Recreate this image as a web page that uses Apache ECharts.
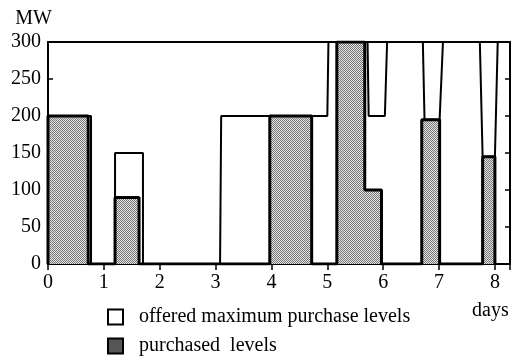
<!DOCTYPE html>
<html>
<head>
<meta charset="utf-8">
<script src="https://cdn.jsdelivr.net/npm/echarts@6/dist/echarts.min.js"></script>
<style>html,body{margin:0;padding:0;background:#fff}#c{width:519px;height:364px}</style>
</head>
<body>
<div id="c"></div>
<script>
// Offered maximum purchase levels (step outline), x in days, y in MW
var offeredX = [0, 0.77, 0.77, 1.2, 1.2, 1.7, 1.7, 3.08, 3.1, 5.0, 5.02, 5.72, 5.74, 6.03, 6.07, 6.71, 6.74, 7.01, 7.07, 7.73, 7.78, 8.0, 8.05, 8.27];
var offeredY = [200, 200, 0, 0, 150, 150, 0, 0, 200, 200, 300, 300, 200, 200, 300, 300, 195, 195, 300, 300, 145, 145, 300, 300];
// Purchased levels (filled blocks)
var purchasedX = [0, 0, 0.72, 0.72, 1.2, 1.2, 1.63, 1.63, 3.97, 3.97, 4.72, 4.72, 5.17, 5.17, 5.67, 5.67, 5.97, 5.97, 6.69, 6.69, 7.01, 7.01, 7.78, 7.78, 8.0, 8.0];
var purchasedY = [0, 200, 200, 0, 0, 90, 90, 0, 0, 200, 200, 0, 0, 300, 300, 100, 100, 0, 0, 195, 195, 0, 0, 145, 145, 0];
var xTicks = [0, 1, 2, 3, 4, 5, 6, 7, 8];
var yTicks = [0, 50, 100, 150, 200, 250, 300];

function zip(xs, ys) { return xs.map(function (x, i) { return [x, ys[i]]; }); }

// stipple pattern
var pc = document.createElement('canvas');
pc.width = 2; pc.height = 2;
var g = pc.getContext('2d');
g.fillStyle = '#e4e4e4'; g.fillRect(0, 0, 2, 2);
g.fillStyle = '#767676'; g.fillRect(0, 0, 1, 1); g.fillRect(1, 1, 1, 1);
var stipple = { image: pc, repeat: 'repeat' };

var serif = 'Liberation Serif';
var chart = echarts.init(document.getElementById('c'));
chart.setOption({
  animation: false,
  backgroundColor: '#fff',
  grid: { left: 48, right: 9, top: 42, bottom: 100, show: false },
  legend: {
    orient: 'vertical', left: 102, top: 302, height: 80, itemWidth: 15, itemHeight: 15, itemGap: 9,
    textStyle: { fontFamily: serif, fontSize: 20, color: '#000', padding: [0, 0, 0, 11] },
    data: [
      { name: 'offered maximum purchase levels', icon: 'rect', itemStyle: { color: '#fff', borderColor: '#000', borderWidth: 2 } },
      { name: 'purchased  levels', icon: 'rect', itemStyle: { color: '#555', borderColor: '#000', borderWidth: 2 } }
    ]
  },
  xAxis: [{
    type: 'value', min: 0, max: 8.27, interval: 1,
    axisLine: { show: true, onZero: false, lineStyle: { color: '#000', width: 2 } },
    axisTick: { show: true, inside: false, length: 6, lineStyle: { color: '#000', width: 1.5 } },
    axisLabel: {
      fontFamily: serif, fontSize: 20, color: '#000', margin: 9,
      formatter: function (v) { return xTicks.indexOf(v) >= 0 ? String(v) : ''; }
    },
    splitLine: { show: false }
  }, {
    type: 'value', position: 'top', min: 0, max: 8.27,
    axisLine: { show: true, onZero: false, lineStyle: { color: '#000', width: 2 } },
    axisTick: { show: false }, axisLabel: { show: false }, splitLine: { show: false }
  }],
  yAxis: [{
    type: 'value', min: 0, max: 300, interval: 50,
    name: 'MW', nameLocation: 'end', nameGap: 13,
    nameTextStyle: { fontFamily: serif, fontSize: 20, color: '#000', align: 'right', padding: [0, -4, 0, 0] },
    axisLine: { show: true, onZero: false, lineStyle: { color: '#000', width: 2 } },
    axisTick: { show: true, inside: true, length: 5, lineStyle: { color: '#000', width: 1.5 } },
    axisLabel: { fontFamily: serif, fontSize: 20, color: '#000', margin: 7,
      formatter: function (v) { return yTicks.indexOf(v) >= 0 ? String(v) : ''; } },
    splitLine: { show: false }
  }, {
    type: 'value', position: 'right', min: 0, max: 300, interval: 50,
    axisLine: { show: true, onZero: false, lineStyle: { color: '#000', width: 2 } },
    axisTick: { show: true, inside: true, length: 5, lineStyle: { color: '#000', width: 1.5 } },
    axisLabel: { show: false }, splitLine: { show: false }
  }],
  graphic: [{
    type: 'text', left: 472, top: 301,
    style: { text: 'days', font: '20px "Liberation Serif"', fill: '#000' }
  }],
  series: [{
    name: 'offered maximum purchase levels', type: 'line', data: zip(offeredX, offeredY),
    showSymbol: false, symbol: 'none', z: 3,
    lineStyle: { color: '#000', width: 2 }, itemStyle: { color: '#fff' }
  }, {
    name: 'purchased  levels', type: 'line', data: zip(purchasedX, purchasedY),
    showSymbol: false, symbol: 'none', z: 4,
    lineStyle: { color: '#000', width: 3 }, itemStyle: { color: '#555' },
    areaStyle: { color: stipple, opacity: 1 }
  }]
});
</script>
</body>
</html>
